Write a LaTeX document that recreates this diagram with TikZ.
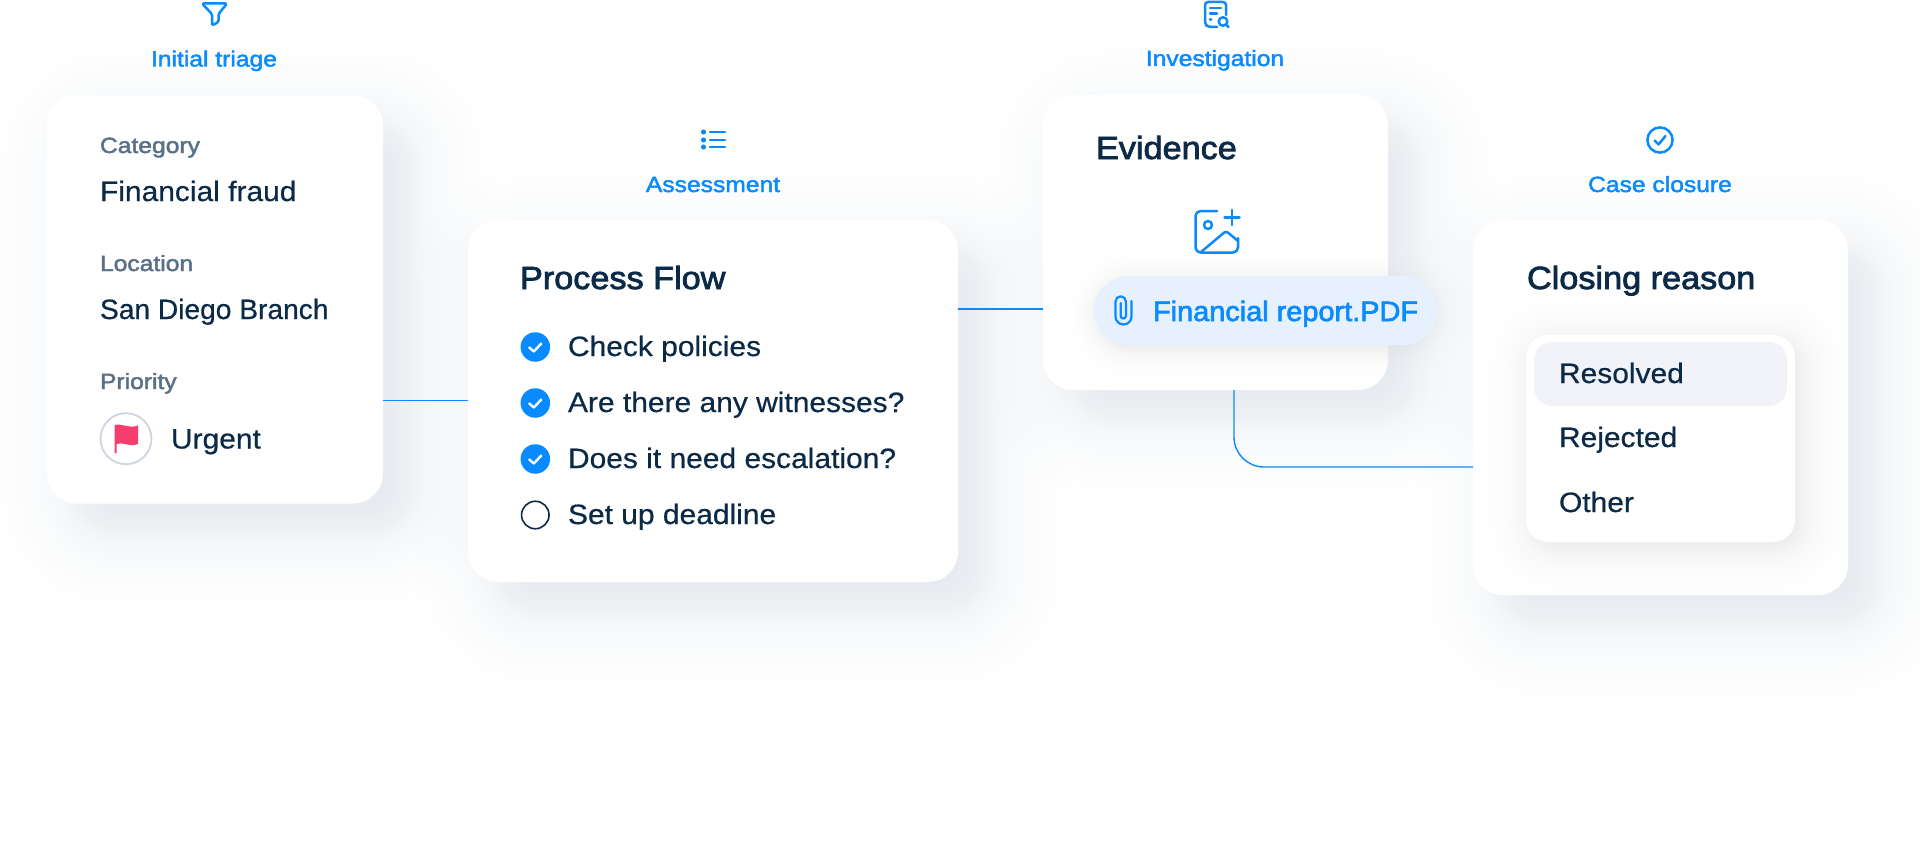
\documentclass[tikz,border=0pt]{standalone}
\usepackage{fontspec}
\setmainfont[FakeStretch=1.07,FakeBold=0.5]{Liberation Sans}
\newfontfamily\medfont[FakeStretch=1.07,FakeBold=2.4]{Liberation Sans}
\newfontfamily\labelfont[FakeStretch=1.12,FakeBold=2.0]{Liberation Sans}
\usetikzlibrary{positioning, calc, backgrounds}
\definecolor{stepblue}{HTML}{0A8AFF}
\definecolor{inkblue}{HTML}{0B2A47}
\definecolor{slategrey}{HTML}{5A7088}
\definecolor{pillblue}{HTML}{E6F1FD}
\definecolor{rowgrey}{HTML}{F1F3F9}
\definecolor{ringgrey}{HTML}{CDD6E0}
\definecolor{flagred}{HTML}{F43F6E}
\definecolor{haze}{HTML}{7A90A8}
\pgfdeclarelayer{background}
\pgfdeclarelayer{foreground}
\pgfsetlayers{background,main,foreground}
\newcommand{\softshadow}[5]{%
  \foreach \k in {-14,...,14} {
    \pgfmathsetmacro{\grow}{#3*(0.4*\k/14+0.6*(\k/14)^3)}
    \pgfmathsetmacro{\bend}{max(#5+\grow,1)}
    \fill[haze, opacity=#4, rounded corners=\bend]
      ($(#1.south west)+(#2-\grow,-#2-\grow)$) rectangle ($(#1.north east)+(#2+\grow,-#2+\grow)$);
  }
}
\tikzset{
  card/.style={fill=white, rounded corners=30},
  link/.style={draw=stepblue, line width=1.4},
  icon/.style={draw=stepblue, line width=2.5, line cap=round, line join=round},
  stage/.style={text=stepblue, font=\labelfont\fontsize{22}{26}\selectfont, anchor=base},
  caption/.style={text=slategrey, font=\labelfont\fontsize{22}{26}\selectfont, anchor=base west},
  value/.style={text=inkblue, font=\fontsize{28}{34}\selectfont, anchor=base west},
  heading/.style={text=inkblue, font=\medfont\fontsize{32}{38}\selectfont, anchor=base west},
  done/.style={circle, fill=stepblue, minimum size=29.5},
  todo/.style={circle, draw=inkblue, line width=1.6, minimum size=27.5},
  tick/.style={draw=white, line width=2.4, line cap=round, line join=round},
  x=1pt, y=1pt, every node/.style={inner sep=0, outer sep=0}
}
\begin{document}
\begin{tikzpicture}
  \useasboundingbox (0,0) rectangle (1920,-851);
  % cards
  \node[card, minimum width=336, minimum height=408] (triage) at (215,-299.5) {};
  \node[card, minimum width=490, minimum height=362] (assess) at (713,-401) {};
  \node[card, minimum width=345, minimum height=295] (evidence) at (1215.5,-242.5) {};
  \node[card, minimum width=375, minimum height=375] (closing) at (1660.5,-407.5) {};
  \begin{scope}[on background layer]
    \softshadow{triage}{28}{80}{0.007}{40}
    \softshadow{assess}{28}{80}{0.007}{40}
    \softshadow{evidence}{28}{80}{0.007}{40}
    \softshadow{closing}{28}{80}{0.007}{40}
  \end{scope}
  % connectors
  \coordinate (triageout) at ($(triage.south east)+(0,103)$);
  \draw[link] (triageout) -- (triageout -| assess.west);
  \coordinate (assessout) at ($(assess.north east)+(0,-89)$);
  \draw[link] (assessout) -- (assessout -| evidence.west);
  \coordinate (evidenceout) at ($(evidence.south)+(18.5,0)$);
  \coordinate (closingin) at ($(closing.south west)+(0,128)$);
  \draw[link, rounded corners=30] (evidenceout) |- (closingin);
  % stage titles
  \node[stage] (triagetitle) at (214,-66.5) {Initial triage};
  \node[stage] (assesstitle) at (713,-192) {Assessment};
  \node[stage] (investtitle) at (1215,-66) {Investigation};
  \node[stage] (closuretitle) at (1660,-192) {Case closure};
  % stage icons
  \draw[icon, rounded corners=1.5] (202,-3.5) -- (227,-3.5) -- (218.5,-14) -- (218.5,-22) -- (212,-25.5) -- (212,-14) -- cycle;
  \foreach \y in {132,140,147} {
    \fill[stepblue] (703.5,-\y) circle (2.6);
    \draw[icon] (710,-\y) -- (725,-\y);
  }
  \draw[icon] (1660,-140) circle (12.6);
  \draw[icon] (1654.5,-140.5) -- (1658.5,-144.5) -- (1665.5,-136);
  \draw[icon, rounded corners=3] (1217,-27) -- (1208,-27) -- (1205,-24) -- (1205,-2) -- (1226,-2) -- (1226,-15);
  \draw[icon] (1210,-8) -- (1221,-8) (1210,-13.5) -- (1217,-13.5) (1210,-19.5) -- (1211,-19.5);
  \draw[icon] (1223,-21.5) circle (4.3) (1226.5,-25) -- (1228.5,-27);
  % first card
  \node[caption] (categorykey) at (100,-153) {Category};
  \node[value, below=48 of categorykey.base west, anchor=base west] (categoryval) {Financial fraud};
  \node[caption, below=70 of categoryval.base west, anchor=base west] (locationkey) {Location};
  \node[value, below=48 of locationkey.base west, anchor=base west] (locationval) {\scalebox{0.94}[1]{San Diego Branch}};
  \node[caption, below=70 of locationval.base west, anchor=base west] (prioritykey) {Priority};
  \node[circle, draw=ringgrey, line width=1.8, minimum size=51] (flagring) at (126,-438.7) {};
  \node[value, anchor=base west] (priorityval) at (171,-448.5) {Urgent};
  \fill[flagred] (114.5,-425) .. controls (121,-423) and (130,-429) .. (138,-425.5) -- (138,-444) .. controls (130,-447.5) and (122,-441.5) .. (116.5,-444) -- (116.5,-453) -- (114.5,-453) -- cycle;
  % second card
  \node[heading] (flowhead) at (520,-289) {Process Flow};
  \node[done] (check1) at (535.3,-347) {};
  \node[done, below=56 of check1.center, anchor=center] (check2) {};
  \node[done, below=56 of check2.center, anchor=center] (check3) {};
  \node[todo, below=56 of check3.center, anchor=center] (check4) {};
  \foreach \n in {check1,check2,check3} {
    \draw[tick] ($(\n)+(-6,-0.5)$) -- ($(\n)+(-1.5,-4.5)$) -- ($(\n)+(6,3.5)$);
  }
  \node[value] (item1) at (568,-356) {Check policies};
  \node[value, below=56 of item1.base west, anchor=base west] (item2) {Are there any witnesses?};
  \node[value, below=56 of item2.base west, anchor=base west] (item3) {Does it need escalation?};
  \node[value, below=56 of item3.base west, anchor=base west] (item4) {Set up deadline};
  % third card
  \node[heading] (evidencehead) at (1096,-159) {Evidence};
  \draw[icon, rounded corners=5] (1217,-211) -- (1195.5,-211) -- (1195.5,-252.5) -- (1238,-252.5) -- (1238,-238);
  \draw[icon] (1208,-225) circle (4);
  \draw[icon, rounded corners=2.5] (1201,-252) -- (1226,-231) -- (1238,-241);
  \draw[icon] (1232,-210) -- (1232,-225) (1224.5,-217.5) -- (1239.5,-217.5);
  \begin{pgfonlayer}{foreground}
    \node[fill=pillblue, rounded corners=34.5, minimum width=343, minimum height=69] (pill) at (1265.5,-310.5) {};
    \node[stage, anchor=base west, font=\medfont\fontsize{28}{34}\selectfont] (pilltext) at (1153,-321) {\scalebox{0.965}[1]{Financial report.PDF}};
    \draw[icon, line width=2.2] (1131.5,-301) -- (1131.5,-316.5) arc (0:-180:8) -- (1115.5,-301.5) arc (180:0:5.2) -- (1125.9,-316) arc (0:-180:2.6) -- (1120.7,-303);
    % fourth card
    \node[heading] (closinghead) at (1527,-289) {Closing reason};
    \node[fill=white, rounded corners=22, minimum width=269, minimum height=207] (panel) at (1660.5,-438.5) {};
    \node[fill=rowgrey, rounded corners=18, minimum width=253, minimum height=64] (pickrow) at (1660.5,-374) {};
    \node[value] (reason1) at (1559,-383) {Resolved};
    \node[value, below=64 of reason1.base west, anchor=base west] (reason2) {Rejected};
    \node[value, below=65 of reason2.base west, anchor=base west] (reason3) {Other};
  \end{pgfonlayer}
  \softshadow{panel}{6}{44}{0.004}{26}
  \softshadow{pill}{4}{28}{0.002}{34}
\end{tikzpicture}
\end{document}
